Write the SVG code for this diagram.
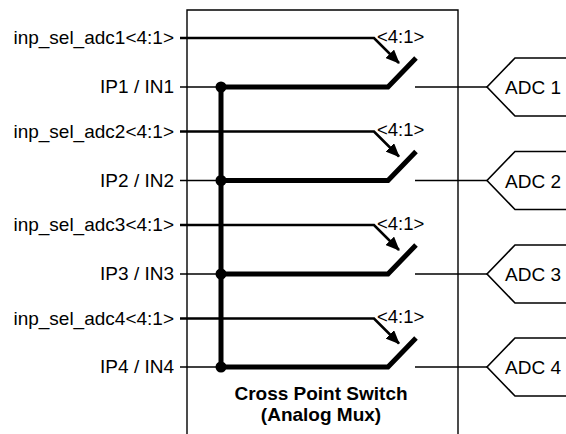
<svg xmlns="http://www.w3.org/2000/svg" width="566" height="434" viewBox="0 0 566 434">
<style>
.lbl{font-family:"Liberation Sans",Arial,sans-serif;font-size:19px;fill:#000}
.r{text-anchor:end}
.sm{font-family:"Liberation Sans",Arial,sans-serif;font-size:18.5px;fill:#000}
.b{font-family:"Liberation Sans",Arial,sans-serif;font-size:19px;font-weight:bold;fill:#000;text-anchor:middle}
.thin{stroke:#000;stroke-width:1.6;fill:none}
.sel{stroke:#000;stroke-width:2.6;fill:none}
.thick{stroke:#000;stroke-width:5;fill:none}
.box{stroke:#000;stroke-width:1.4;fill:none}
</style>
<defs>
<marker id="ah" viewBox="0 0 14 12" refX="13" refY="6" markerWidth="14" markerHeight="12" orient="auto" markerUnits="userSpaceOnUse">
<path d="M0,0 L14,6 L0,12 z" fill="#000"/>
</marker>
</defs>
<g id="mux">
<path class="box" d="M187,434 V10 H458 V434"/>
<text class="b" x="321" y="400">Cross Point Switch</text>
<text class="b" x="321" y="421">(Analog Mux)</text>
</g>
<g id="connectors">
<path class="thick" d="M221,87 V367"/>
<g id="row1">
<path class="sel" d="M180,38 H374 L399,63" marker-end="url(#ah)"/>
<path class="thin" d="M180,87 H221"/>
<path class="thick" d="M221,87 H388 L416,58"/>
<path class="thin" d="M415,87 H487"/>
<circle cx="221" cy="87" r="5.5"/>
</g>
<g id="row2">
<path class="sel" d="M180,131.5 H374 L399,156.5" marker-end="url(#ah)"/>
<path class="thin" d="M180,180.5 H221"/>
<path class="thick" d="M221,180.5 H388 L416,151.5"/>
<path class="thin" d="M415,180.5 H487"/>
<circle cx="221" cy="180.5" r="5.5"/>
</g>
<g id="row3">
<path class="sel" d="M180,225 H374 L399,250" marker-end="url(#ah)"/>
<path class="thin" d="M180,274 H221"/>
<path class="thick" d="M221,274 H388 L416,245"/>
<path class="thin" d="M415,274 H487"/>
<circle cx="221" cy="274" r="5.5"/>
</g>
<g id="row4">
<path class="sel" d="M180,318.5 H374 L399,343.5" marker-end="url(#ah)"/>
<path class="thin" d="M180,367 H221"/>
<path class="thick" d="M221,367 H388 L416,338"/>
<path class="thin" d="M415,367 H487"/>
<circle cx="221" cy="367" r="5.5"/>
</g>
</g>
<g id="labels">
<text class="lbl r" x="174" y="44">inp_sel_adc1&lt;4:1&gt;</text>
<text class="lbl r" x="174" y="93">IP1 / IN1</text>
<text class="lbl r" x="174" y="137.5">inp_sel_adc2&lt;4:1&gt;</text>
<text class="lbl r" x="174" y="186.5">IP2 / IN2</text>
<text class="lbl r" x="174" y="231">inp_sel_adc3&lt;4:1&gt;</text>
<text class="lbl r" x="174" y="280">IP3 / IN3</text>
<text class="lbl r" x="174" y="324.5">inp_sel_adc4&lt;4:1&gt;</text>
<text class="lbl r" x="174" y="373">IP4 / IN4</text>
<text class="sm" x="377" y="42.5">&lt;4:1&gt;</text>
<text class="sm" x="377" y="136">&lt;4:1&gt;</text>
<text class="sm" x="377" y="229.5">&lt;4:1&gt;</text>
<text class="sm" x="377" y="323">&lt;4:1&gt;</text>
</g>
<g id="adc1">
<path class="thin" d="M570,58 H515 L487,87 L515,116 H570"/>
<text class="lbl" x="505" y="94">ADC 1</text>
</g>
<g id="adc2">
<path class="thin" d="M570,151.5 H515 L487,180.5 L515,209.5 H570"/>
<text class="lbl" x="505" y="187.5">ADC 2</text>
</g>
<g id="adc3">
<path class="thin" d="M570,245 H515 L487,274 L515,303 H570"/>
<text class="lbl" x="505" y="281">ADC 3</text>
</g>
<g id="adc4">
<path class="thin" d="M570,338 H515 L487,367 L515,396 H570"/>
<text class="lbl" x="505" y="374">ADC 4</text>
</g>
</svg>
